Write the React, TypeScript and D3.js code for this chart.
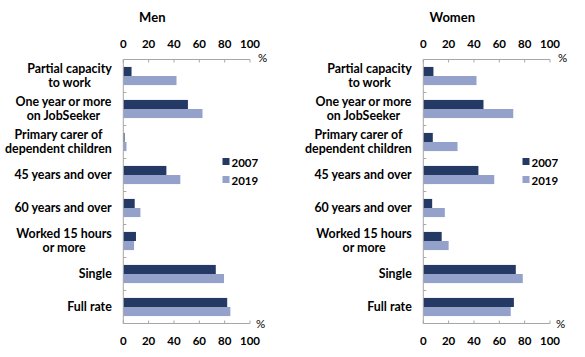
import React from "react";
import * as d3 from "d3";

const categories: string[][] = [
  ["Partial capacity", "to work"],
  ["One year or more", "on JobSeeker"],
  ["Primary carer of", "dependent children"],
  ["45 years and over"],
  ["60 years and over"],
  ["Worked 15 hours", "or more"],
  ["Single"],
  ["Full rate"],
];
const catKeys = categories.map((c) => c.join(" "));
const series = ["2007", "2019"];
const colors = ["#243964", "#94a2cb"];

const men2007 = [6.5, 51, 1, 34, 9, 10, 73, 82];
const men2019 = [42, 62.5, 2.5, 45, 13.5, 8.5, 79.5, 84.5];
const women2007 = [8, 47.5, 7.5, 43.5, 7, 14.5, 73, 71.5];
const women2019 = [42, 71, 27, 56, 17, 20, 78.5, 69];
const ticks = [0, 20, 40, 60, 80, 100];

const FONT = "Lato, 'Open Sans', sans-serif";
const AXIS = "#a6a6a6";
const LABEL_SIZE = 12.4;

let ctx: CanvasRenderingContext2D | null = null;
function textWidth(s: string): number {
  if (!ctx) ctx = document.createElement("canvas").getContext("2d");
  if (!ctx) return s.length * LABEL_SIZE * 0.5;
  ctx.font = `bold ${LABEL_SIZE}px ${FONT}`;
  return ctx.measureText(s).width;
}

function Panel({ title, x0, data, legendX }: { title: string; x0: number; data: number[][]; legendX: number }) {
  const top = 59.5;
  const bottom = 323.5;
  const x = d3.scaleLinear().domain([0, 100]).range([x0, x0 + 126.7]);
  const y = d3.scaleBand<string>().domain(catKeys).range([top, bottom]).paddingInner(0.45).paddingOuter(0.225);
  const sub = d3.scaleBand<string>().domain(series).range([0, y.bandwidth()]);
  const step = y.step();
  const xr = x(100);
  return (
    <g fontFamily={FONT} fontWeight="bold" fill="#000">
      <text x={x(0) + 29} y={21.5} fontSize={13} textAnchor="middle">{title}</text>
      {series.map((s, si) =>
        data[si].map((v, i) => (
          <rect key={s + i} x={x(0)} y={(y(catKeys[i]) as number) + (sub(s) as number)} width={x(v) - x(0)} height={sub.bandwidth()} fill={colors[si]} />
        ))
      )}
      <line x1={x(0)} x2={xr} y1={top} y2={top} stroke={AXIS} />
      <line x1={x(0)} x2={xr} y1={bottom} y2={bottom} stroke={AXIS} />
      <line x1={x(0)} x2={x(0)} y1={top} y2={bottom} stroke={AXIS} />
      {ticks.map((t) => (
        <g key={t}>
          <line x1={x(t)} x2={x(t)} y1={top} y2={top + 3} stroke={AXIS} />
          <line x1={x(t)} x2={x(t)} y1={bottom} y2={bottom - 3} stroke={AXIS} />
          <text x={x(t)} y={47.5} fontSize={11.5} textAnchor="middle">{t}</text>
          <text x={x(t)} y={344.5} fontSize={11.5} textAnchor="middle">{t}</text>
        </g>
      ))}
      {catKeys.slice(1).map((k, i) => (
        <line key={k} x1={x(0)} x2={x(0) + 3} y1={top + step * (i + 1)} y2={top + step * (i + 1)} stroke={AXIS} />
      ))}
      <text x={xr + 8} y={62} fontSize={11.5} fontWeight="normal" textAnchor="start">%</text>
      <text x={xr + 6} y={328} fontSize={11.5} fontWeight="normal" textAnchor="start">%</text>
      {categories.map((lines, i) => {
        const cy = (y(catKeys[i]) as number) + y.bandwidth() / 2;
        const lh = 14;
        const right = x(0) - 11.5;
        const maxW = Math.max(...lines.map(textWidth));
        const cx = right - maxW / 2;
        return (
          <text key={i} x={cx} fontSize={LABEL_SIZE} textAnchor="middle">
            {lines.map((l, j) => (
              <tspan key={j} x={cx} y={cy + (j - (lines.length - 1) / 2) * lh + 4.3}>{l}</tspan>
            ))}
          </text>
        );
      })}
      {series.map((s, si) => (
        <g key={s}>
          <rect x={legendX} y={158 + si * 18} width={7} height={7} fill={colors[si]} />
          <text x={legendX + 9} y={166.5 + si * 18} fontSize={11.5}>{s}</text>
        </g>
      ))}
    </g>
  );
}

export default function App() {
  return (
    <svg width={585} height={357} style={{ position: "absolute", left: 0, top: 0, background: "#fff" }}>
      <Panel title="Men" x0={123.3} data={[men2007, men2019]} legendX={222.5} />
      <Panel title="Women" x0={423.3} data={[women2007, women2019]} legendX={522.5} />
    </svg>
  );
}
